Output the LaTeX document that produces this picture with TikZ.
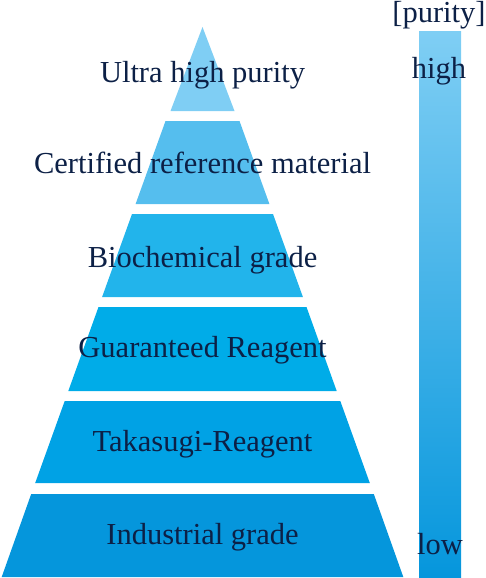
\documentclass[tikz,border=0pt]{standalone}
\usepackage{fontspec}
\setmainfont{Liberation Serif}
\definecolor{navy}{HTML}{0C2046}
\definecolor{lvA}{HTML}{7FCEF4}
\definecolor{lvB}{HTML}{55BEEE}
\definecolor{lvC}{HTML}{22B4EB}
\definecolor{lvD}{HTML}{00ACE8}
\definecolor{lvE}{HTML}{00A2E5}
\definecolor{lvF}{HTML}{0596DC}
\definecolor{barmid}{HTML}{2EB6EC}
\begin{document}
\begin{tikzpicture}[x=1pt, y=-1pt, every node/.style={font=\fontsize{30.5}{36}\selectfont, text=navy, inner sep=0pt, anchor=base}]
\useasboundingbox (0,0) rectangle (485,578);
% pyramid, top to bottom
\fill[lvA] (202.5,27) -- (234.5,111) -- (170.5,111) -- cycle;
\fill[lvB] (165.5,121) -- (239.5,121) -- (269.4,204) -- (135.6,204) -- cycle;
\fill[lvC] (132,214) -- (273,214) -- (302.9,297) -- (102.1,297) -- cycle;
\fill[lvD] (98.5,307) -- (306.5,307) -- (336.7,391) -- (68.3,391) -- cycle;
\fill[lvE] (64.7,401) -- (340.3,401) -- (369.8,483) -- (35.2,483) -- cycle;
\fill[lvF] (31.2,494) -- (373.8,494) -- (403.3,577) -- (1.7,577) -- cycle;
\node (ultra) at (202.5,82) {Ultra high purity};
\node (crm) at (202.5,173) {Certified reference material};
\node (bio) at (202.5,267) {Biochemical grade};
\node (gr) at (202.5,357) {Guaranteed Reagent};
\node (taka) at (202.5,451) {Takasugi-Reagent};
\node (ind) at (202.5,544) {Industrial grade};
% purity scale
\shade[top color=lvA, middle color=barmid, bottom color=lvF] (419,32) rectangle (461,578);
\node (purity) at (439,23) {[purity]};
\node (high) at (439,78) {high};
\node (low) at (440,554) {low};
\end{tikzpicture}
\end{document}
